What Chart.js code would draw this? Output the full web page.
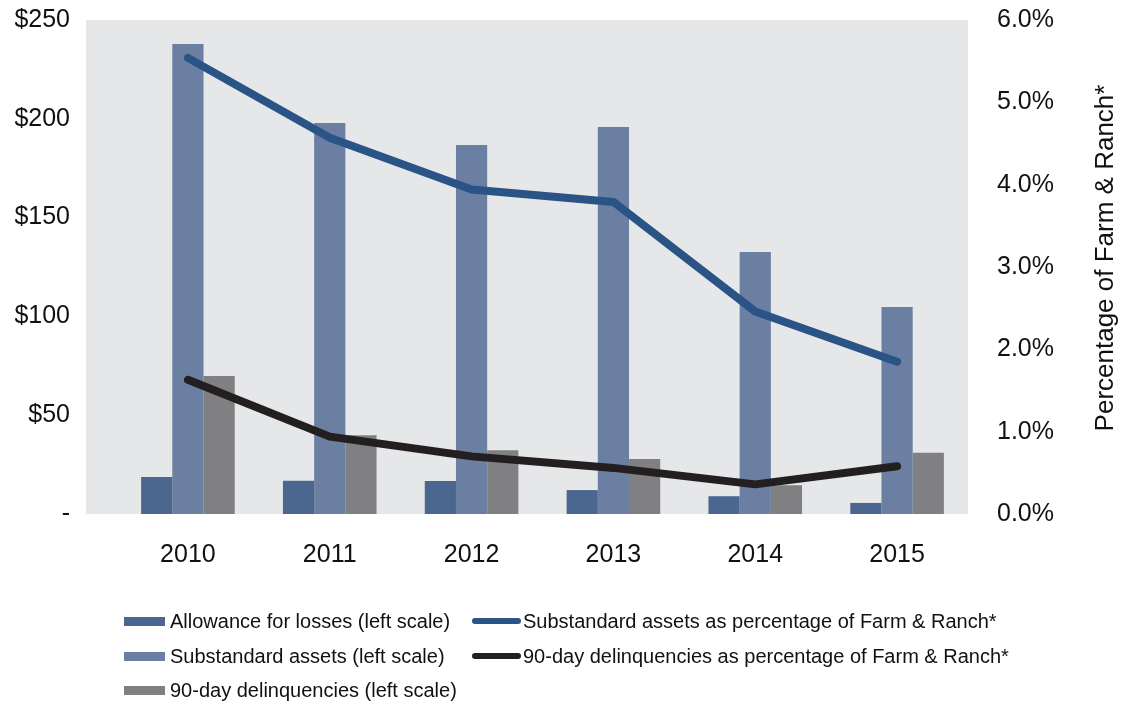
<!DOCTYPE html>
<html>
<head>
<meta charset="utf-8">
<script src="https://cdn.jsdelivr.net/npm/chart.js@4/dist/chart.umd.min.js"></script>
<style>
  body { margin: 0; background: #fff; font-family: "Liberation Sans", Arial, sans-serif; }
  #wrap { position: relative; width: 1121px; height: 704px; }
  #legend { position: absolute; left: 0; top: 0; width: 1121px; height: 704px; pointer-events: none; }
  .item { position: absolute; font-size: 20px; color: #111; white-space: nowrap; line-height: 20px; }
  .sw { position: absolute; }
</style>
</head>
<body>
<div id="wrap">
  <canvas id="chart" width="1121" height="600"></canvas>
  <div id="legend"></div>
</div>
<script>
const years = ['2010', '2011', '2012', '2013', '2014', '2015'];
const allowance = [18.7, 16.8, 16.7, 12.1, 9.0, 5.6];
const substandard = [237.9, 197.9, 186.7, 195.9, 132.6, 104.8];
const delinquent = [69.8, 39.8, 32.2, 27.8, 14.5, 31.0];
const substandardPct = [5.54, 4.57, 3.94, 3.79, 2.46, 1.85];
const delinquentPct = [1.63, 0.94, 0.70, 0.56, 0.36, 0.58];
const leftTicks = ['-', '$50', '$100', '$150', '$200', '$250'];

const colors = {
  allowance: '#4B6790',
  substandard: '#6A7FA1',
  delinquent: '#808083',
  blueLine: '#2A5386',
  blackLine: '#231F20'
};

const legendItems = [
  { label: 'Allowance for losses (left scale)', color: colors.allowance, type: 'bar', col: 0, row: 0 },
  { label: 'Substandard assets (left scale)', color: colors.substandard, type: 'bar', col: 0, row: 1 },
  { label: '90-day delinquencies (left scale)', color: colors.delinquent, type: 'bar', col: 0, row: 2 },
  { label: 'Substandard assets as percentage of Farm & Ranch*', color: colors.blueLine, type: 'line', col: 1, row: 0 },
  { label: '90-day delinquencies as percentage of Farm & Ranch*', color: colors.blackLine, type: 'line', col: 1, row: 1 }
];

// plot background, a bit wider than the category axis on the left
const plotBg = {
  id: 'plotBg',
  beforeDraw(chart) {
    const { ctx, chartArea } = chart;
    ctx.save();
    ctx.fillStyle = '#E6E7E9';
    ctx.fillRect(chartArea.left - 31, chartArea.top, chartArea.right - chartArea.left + 31, chartArea.bottom - chartArea.top);
    ctx.restore();
  }
};

// right axis title reads bottom-to-top
const rightTitle = {
  id: 'rightTitle',
  afterDraw(chart) {
    const { ctx } = chart;
    ctx.save();
    ctx.translate(1106, 258);
    ctx.rotate(-Math.PI / 2);
    ctx.font = '26px "Liberation Sans", Arial, sans-serif';
    ctx.fillStyle = '#111';
    ctx.textAlign = 'center';
    ctx.textBaseline = 'middle';
    ctx.fillText('Percentage of Farm & Ranch*', 0, 0);
    ctx.restore();
  }
};

const tickFont = { family: '"Liberation Sans", Arial, sans-serif', size: 25 };

function noPad(scale) {
  scale.paddingTop = 0;
  scale.paddingBottom = 0;
  scale.paddingLeft = 0;
  scale.paddingRight = 0;
}

new Chart(document.getElementById('chart'), {
  data: {
    labels: years,
    datasets: [
      { type: 'line', label: legendItems[3].label, data: substandardPct, yAxisID: 'yR',
        borderColor: colors.blueLine, borderWidth: 8, pointRadius: 0, tension: 0,
        borderCapStyle: 'round', borderJoinStyle: 'round', order: 0 },
      { type: 'line', label: legendItems[4].label, data: delinquentPct, yAxisID: 'yR',
        borderColor: colors.blackLine, borderWidth: 8, pointRadius: 0, tension: 0,
        borderCapStyle: 'round', borderJoinStyle: 'round', order: 0 },
      { type: 'bar', label: legendItems[0].label, data: allowance, yAxisID: 'yL',
        backgroundColor: colors.allowance, order: 1 },
      { type: 'bar', label: legendItems[1].label, data: substandard, yAxisID: 'yL',
        backgroundColor: colors.substandard, order: 1 },
      { type: 'bar', label: legendItems[2].label, data: delinquent, yAxisID: 'yL',
        backgroundColor: colors.delinquent, order: 1 }
    ]
  },
  options: {
    responsive: false,
    animation: false,
    layout: { padding: { top: 20, left: 0, right: 0, bottom: 0 } },
    datasets: { bar: { categoryPercentage: 0.66, barPercentage: 1.0 } },
    plugins: { legend: { display: false }, tooltip: { enabled: false } },
    scales: {
      x: {
        grid: { display: false, drawTicks: false },
        border: { display: false },
        ticks: { font: tickFont, color: '#111', padding: 26 },
        afterFit(scale) { scale.height = 86; noPad(scale); }
      },
      yL: {
        position: 'left', min: 0, max: 250,
        grid: { display: false, drawTicks: false },
        border: { display: false },
        ticks: { stepSize: 50, font: tickFont, color: '#111', padding: 47,
          callback: (v, i) => leftTicks[i] },
        afterFit(scale) { scale.width = 117; noPad(scale); }
      },
      yR: {
        position: 'right', min: 0, max: 6,
        grid: { display: false, drawTicks: false },
        border: { display: false },
        ticks: { stepSize: 1, font: tickFont, color: '#111', padding: 29,
          callback: v => v.toFixed(1) + '%' },
        afterFit(scale) { scale.width = 153; noPad(scale); }
      }
    }
  },
  plugins: [plotBg, rightTitle]
});

// legend below the chart
const legend = document.getElementById('legend');
const colX = [124, 472];
const rowY = [621, 656, 690];
legendItems.forEach(it => {
  const sw = document.createElement('div');
  sw.className = 'sw';
  if (it.type === 'bar') {
    sw.style.cssText = `left:${colX[it.col]}px;top:${rowY[it.row] - 4}px;width:41px;height:9px;background:${it.color};`;
  } else {
    sw.style.cssText = `left:${colX[it.col]}px;top:${rowY[it.row] - 3}px;width:49px;height:6px;border-radius:3px;background:${it.color};`;
  }
  legend.appendChild(sw);
  const tx = document.createElement('div');
  tx.className = 'item';
  tx.textContent = it.label;
  tx.style.left = (it.type === 'bar' ? colX[it.col] + 46 : colX[it.col] + 51) + 'px';
  tx.style.top = (rowY[it.row] - 10) + 'px';
  legend.appendChild(tx);
});
</script>
</body>
</html>
